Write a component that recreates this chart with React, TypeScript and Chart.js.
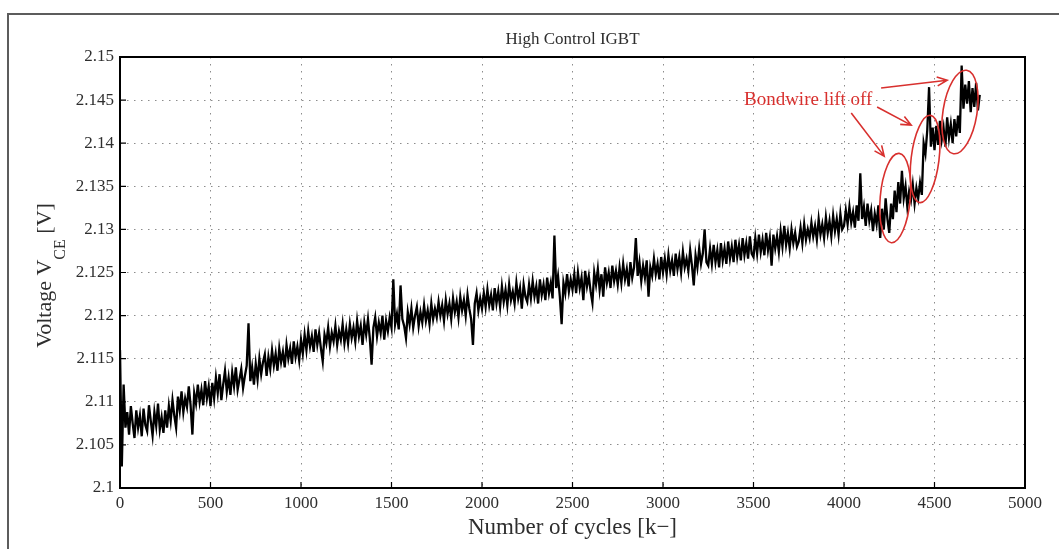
import React, { useEffect, useRef } from 'react';
import { Chart, registerables } from 'chart.js';
Chart.register(...registerables);

// ---- data ----
const cycleStep = 10; // sampling interval of the series [k cycles]
const voltage = [
  // 0 - 240
  2.1160, 2.1025, 2.1120, 2.1070, 2.1088, 2.1062, 2.1095, 2.1075, 2.1058, 2.1090, 2.1070, 2.1084, 2.1060, 2.1092, 2.1073, 2.1066, 2.1096, 2.1078, 2.1061, 2.1088, 2.1072, 2.1098, 2.1068, 2.1082, 2.1064,
  // 250 - 490
  2.1090, 2.1070, 2.1095, 2.1078, 2.1102, 2.1084, 2.1070, 2.1106, 2.1090, 2.1112, 2.1088, 2.1104, 2.1094, 2.1118, 2.1096, 2.1062, 2.1110, 2.1098, 2.1120, 2.1100, 2.1114, 2.1096, 2.1124, 2.1104, 2.1118,
  // 500 - 740
  2.1095, 2.1122, 2.1104, 2.1128, 2.1110, 2.1132, 2.1102, 2.1120, 2.1136, 2.1112, 2.1128, 2.1108, 2.1134, 2.1118, 2.1140, 2.1114, 2.1126, 2.1138, 2.1116, 2.1130, 2.1142, 2.1191, 2.1124, 2.1140, 2.1120,
  // 750 - 990
  2.1144, 2.1126, 2.1150, 2.1132, 2.1146, 2.1155, 2.1130, 2.1152, 2.1138, 2.1160, 2.1142, 2.1156, 2.1136, 2.1162, 2.1146, 2.1158, 2.1140, 2.1166, 2.1150, 2.1162, 2.1144, 2.1170, 2.1152, 2.1164, 2.1148,
  // 1000 - 1240
  2.1172, 2.1156, 2.1178, 2.1160, 2.1182, 2.1164, 2.1176, 2.1158, 2.1184, 2.1166, 2.1180, 2.1162, 2.1147, 2.1178, 2.1168, 2.1186, 2.1164, 2.1180, 2.1170, 2.1188, 2.1166, 2.1182, 2.1172, 2.1190, 2.1168,
  // 1250 - 1490
  2.1184, 2.1168, 2.1190, 2.1174, 2.1186, 2.1170, 2.1194, 2.1176, 2.1188, 2.1166, 2.1192, 2.1178, 2.1196, 2.1174, 2.1143, 2.1186, 2.1198, 2.1176, 2.1192, 2.1180, 2.1200, 2.1172, 2.1194, 2.1182, 2.1198,
  // 1500 - 1740
  2.1186, 2.1242, 2.1190, 2.1202, 2.1184, 2.1235, 2.1196, 2.1188, 2.1174, 2.1204, 2.1190, 2.1208, 2.1186, 2.1200, 2.1210, 2.1188, 2.1204, 2.1192, 2.1212, 2.1194, 2.1206, 2.1190, 2.1214, 2.1196, 2.1208,
  // 1750 - 1990
  2.1198, 2.1216, 2.1200, 2.1212, 2.1194, 2.1218, 2.1202, 2.1214, 2.1196, 2.1220, 2.1204, 2.1216, 2.1198, 2.1222, 2.1206, 2.1218, 2.1200, 2.1224, 2.1208, 2.1196, 2.1166, 2.1214, 2.1226, 2.1206, 2.1220,
  // 2000 - 2240
  2.1208, 2.1226, 2.1210, 2.1230, 2.1212, 2.1224, 2.1206, 2.1232, 2.1214, 2.1228, 2.1210, 2.1234, 2.1216, 2.1230, 2.1212, 2.1236, 2.1218, 2.1228, 2.1214, 2.1238, 2.1220, 2.1232, 2.1208, 2.1236, 2.1222,
  // 2250 - 2490
  2.1216, 2.1236, 2.1220, 2.1240, 2.1222, 2.1234, 2.1214, 2.1242, 2.1224, 2.1236, 2.1218, 2.1244, 2.1226, 2.1238, 2.1220, 2.1293, 2.1232, 2.1246, 2.1222, 2.1190, 2.1238, 2.1226, 2.1248, 2.1228, 2.1242,
  // 2500 - 2740
  2.1230, 2.1248, 2.1226, 2.1250, 2.1232, 2.1244, 2.1218, 2.1252, 2.1234, 2.1246, 2.1228, 2.1215, 2.1250, 2.1236, 2.1254, 2.1230, 2.1248, 2.1222, 2.1256, 2.1238, 2.1250, 2.1232, 2.1258, 2.1240, 2.1252,
  // 2750 - 2990
  2.1236, 2.1256, 2.1238, 2.1260, 2.1242, 2.1254, 2.1234, 2.1262, 2.1244, 2.1256, 2.1290, 2.1246, 2.1262, 2.1240, 2.1258, 2.1244, 2.1264, 2.1222, 2.1256, 2.1246, 2.1266, 2.1248, 2.1260, 2.1242, 2.1268,
  // 3000 - 3240
  2.1250, 2.1266, 2.1248, 2.1270, 2.1252, 2.1264, 2.1246, 2.1272, 2.1254, 2.1268, 2.1250, 2.1274, 2.1256, 2.1266, 2.1252, 2.1276, 2.1258, 2.1235, 2.1270, 2.1256, 2.1278, 2.1260, 2.1272, 2.1300, 2.1262,
  // 3250 - 3490
  2.1258, 2.1278, 2.1260, 2.1282, 2.1262, 2.1276, 2.1256, 2.1284, 2.1264, 2.1278, 2.1260, 2.1286, 2.1266, 2.1280, 2.1262, 2.1288, 2.1268, 2.1282, 2.1264, 2.1290, 2.1270, 2.1284, 2.1266, 2.1292, 2.1272,
  // 3500 - 3740
  2.1268, 2.1290, 2.1272, 2.1294, 2.1274, 2.1288, 2.1270, 2.1296, 2.1276, 2.1290, 2.1258, 2.1294, 2.1278, 2.1292, 2.1274, 2.1298, 2.1280, 2.1304, 2.1282, 2.1296, 2.1278, 2.1300, 2.1284, 2.1296, 2.1280,
  // 3750 - 3990
  2.1286, 2.1302, 2.1284, 2.1306, 2.1288, 2.1300, 2.1290, 2.1308, 2.1292, 2.1304, 2.1288, 2.1312, 2.1294, 2.1306, 2.1290, 2.1314, 2.1296, 2.1310, 2.1292, 2.1316, 2.1298, 2.1312, 2.1294, 2.1318, 2.1300,
  // 4000 - 4240
  2.1304, 2.1322, 2.1306, 2.1326, 2.1308, 2.1320, 2.1302, 2.1328, 2.1310, 2.1365, 2.1312, 2.1326, 2.1304, 2.1330, 2.1310, 2.1322, 2.1298, 2.1318, 2.1306, 2.1328, 2.1290, 2.1324, 2.1300, 2.1336, 2.1312,
  // 4250 - 4490
  2.1296, 2.1330, 2.1312, 2.1345, 2.1320, 2.1355, 2.1330, 2.1368, 2.1336, 2.1350, 2.1326, 2.1344, 2.1334, 2.1352, 2.1330, 2.1348, 2.1336, 2.1354, 2.1340, 2.1400, 2.1388, 2.1415, 2.1465, 2.1396, 2.1418,
  // 4500 - 4740
  2.1392, 2.1420, 2.1398, 2.1426, 2.1404, 2.1418, 2.1396, 2.1430, 2.1406, 2.1422, 2.1400, 2.1428, 2.1408, 2.1432, 2.1412, 2.1490, 2.1440, 2.1468, 2.1446, 2.1472, 2.1436, 2.1464, 2.1442, 2.1470, 2.1438,
  // 4750
  2.1456,
];
const cycles = voltage.map((_, i) => i * cycleStep);

const xTicks = [0, 500, 1000, 1500, 2000, 2500, 3000, 3500, 4000, 4500, 5000];
const xTickLabels = ['0', '500', '1000', '1500', '2000', '2500', '3000', '3500', '4000', '4500', '5000'];
const yTicks = [2.1, 2.105, 2.11, 2.115, 2.12, 2.125, 2.13, 2.135, 2.14, 2.145, 2.15];
const yTickLabels = ['2.1', '2.105', '2.11', '2.115', '2.12', '2.125', '2.13', '2.135', '2.14', '2.145', '2.15'];

const chartTitle = 'High Control IGBT';
const xTitle = 'Number of cycles [k\u2212]';
const yTitleMain = 'Voltage V';
const yTitleSub = 'CE';
const yTitleEnd = ' [V]';

// annotation (data coordinates)
const noteText = 'Bondwire lift off';
const notePos = { x: 3802, y: 2.1450 };
const ellipseCenters = [
  { x: 4283, y: 2.13364 },
  { x: 4448, y: 2.13817 },
  { x: 4641, y: 2.14362 },
];
const ellipseRadii = [
  { x: 83, y: 0.0052 },
  { x: 77, y: 0.0051 },
  { x: 94, y: 0.0049 },
];
const ellipseTilt = [5, 7, 9];
const arrowFrom = [
  { x: 4040, y: 2.1435 },
  { x: 4183, y: 2.1442 },
  { x: 4205, y: 2.1464 },
];
const arrowTo = [
  { x: 4222, y: 2.1385 },
  { x: 4371, y: 2.1421 },
  { x: 4570, y: 2.1473 },
];

const SERIF = '"Liberation Serif", "Times New Roman", serif';
const RED = '#d8302e';
const TEXT = '#2e2e2e';

const decor = {
  id: 'decor',
  beforeDraw(chart: any) {
    const ctx = chart.ctx;
    ctx.save();
    ctx.fillStyle = '#ffffff';
    ctx.fillRect(0, 0, chart.width, chart.height);
    ctx.strokeStyle = '#5c5c5c';
    ctx.lineWidth = 2;
    ctx.beginPath();
    ctx.moveTo(8, chart.height);
    ctx.lineTo(8, 14);
    ctx.lineTo(chart.width, 14);
    ctx.stroke();
    ctx.restore();
  },
  afterDatasetsDraw(chart: any) {
    const ctx = chart.ctx;
    const a = chart.chartArea;
    const xs = chart.scales.x;
    const ys = chart.scales.y;
    ctx.save();
    // box
    ctx.strokeStyle = '#000';
    ctx.lineWidth = 2;
    ctx.strokeRect(a.left, a.top, a.right - a.left, a.bottom - a.top);
    // inward ticks
    ctx.lineWidth = 1.2;
    ctx.beginPath();
    xTicks.forEach((v) => {
      const px = xs.getPixelForValue(v);
      ctx.moveTo(px, a.bottom);
      ctx.lineTo(px, a.bottom - 6);
    });
    yTicks.forEach((v) => {
      const py = ys.getPixelForValue(v);
      ctx.moveTo(a.left, py);
      ctx.lineTo(a.left + 6, py);
    });
    ctx.stroke();

    // annotations
    ctx.strokeStyle = RED;
    ctx.fillStyle = RED;
    ctx.lineWidth = 1.6;
    ellipseCenters.forEach((c, i) => {
      const cx = xs.getPixelForValue(c.x);
      const cy = ys.getPixelForValue(c.y);
      const rx = Math.abs(xs.getPixelForValue(c.x + ellipseRadii[i].x) - cx);
      const ry = Math.abs(ys.getPixelForValue(c.y + ellipseRadii[i].y) - cy);
      ctx.beginPath();
      ctx.ellipse(cx, cy, rx, ry, (ellipseTilt[i] * Math.PI) / 180, 0, Math.PI * 2);
      ctx.stroke();
    });
    arrowFrom.forEach((f, i) => {
      const x1 = xs.getPixelForValue(f.x);
      const y1 = ys.getPixelForValue(f.y);
      const x2 = xs.getPixelForValue(arrowTo[i].x);
      const y2 = ys.getPixelForValue(arrowTo[i].y);
      const ang = Math.atan2(y2 - y1, x2 - x1);
      const hl = 11;
      const spread = 0.42;
      ctx.beginPath();
      ctx.moveTo(x1, y1);
      ctx.lineTo(x2, y2);
      ctx.moveTo(x2 - hl * Math.cos(ang - spread), y2 - hl * Math.sin(ang - spread));
      ctx.lineTo(x2, y2);
      ctx.lineTo(x2 - hl * Math.cos(ang + spread), y2 - hl * Math.sin(ang + spread));
      ctx.stroke();
    });
    ctx.font = `19px ${SERIF}`;
    ctx.textAlign = 'center';
    ctx.textBaseline = 'middle';
    ctx.fillText(noteText, xs.getPixelForValue(notePos.x), ys.getPixelForValue(notePos.y));
    ctx.restore();
  },
  afterDraw(chart: any) {
    const ctx = chart.ctx;
    const a = chart.chartArea;
    const midX = (a.left + a.right) / 2;
    const midY = (a.top + a.bottom) / 2;
    ctx.save();
    ctx.fillStyle = TEXT;
    ctx.textAlign = 'center';
    ctx.textBaseline = 'middle';
    ctx.font = `17px ${SERIF}`;
    ctx.fillText(chartTitle, midX, a.top - 17);
    ctx.font = `23px ${SERIF}`;
    ctx.fillText(xTitle, midX, a.bottom + 40);

    // y title with subscript
    ctx.translate(51, midY + 3);
    ctx.rotate(-Math.PI / 2);
    ctx.textAlign = 'left';
    ctx.textBaseline = 'alphabetic';
    const big = `22px ${SERIF}`;
    const small = `16px ${SERIF}`;
    ctx.font = big;
    const w1 = ctx.measureText(yTitleMain).width;
    const w3 = ctx.measureText(yTitleEnd).width;
    ctx.font = small;
    const w2 = ctx.measureText(yTitleSub).width;
    let sx = -(w1 + w2 + w3) / 2;
    ctx.font = big;
    ctx.fillText(yTitleMain, sx, 0);
    sx += w1;
    ctx.font = small;
    ctx.fillText(yTitleSub, sx, 14);
    sx += w2;
    ctx.font = big;
    ctx.fillText(yTitleEnd, sx, 0);
    ctx.restore();
  },
};

export default function App() {
  const ref = useRef<HTMLCanvasElement | null>(null);
  useEffect(() => {
    if (!ref.current) return;
    const chart = new Chart(ref.current, {
      type: 'line',
      data: {
        datasets: [
          {
            data: cycles.map((c, i) => ({ x: c, y: voltage[i] })),
            borderColor: '#000',
            borderWidth: 2.3,
            borderJoinStyle: 'miter',
            pointRadius: 0,
            tension: 0,
            fill: false,
          },
        ],
      },
      options: {
        animation: false,
        responsive: false,
        devicePixelRatio: 1,
        layout: { padding: { left: 0, right: 34, top: 57, bottom: 0 } },
        plugins: { legend: { display: false }, tooltip: { enabled: false }, title: { display: false } },
        scales: {
          x: {
            type: 'linear',
            min: 0,
            max: 5000,
            afterFit: (s: any) => { s.height = 61; },
            afterBuildTicks: (s: any) => { s.ticks = xTicks.map((v) => ({ value: v })); },
            ticks: {
              autoSkip: false,
              maxRotation: 0,
              padding: 5,
              color: TEXT,
              font: { family: SERIF, size: 17 },
              callback: (_v: any, i: number) => xTickLabels[i],
            },
            grid: { color: '#8c8c8c', lineWidth: 1, drawTicks: false },
            border: { display: false, dash: [1.5, 5.5] },
          },
          y: {
            type: 'linear',
            min: 2.1,
            max: 2.15,
            afterFit: (s: any) => { s.width = 120; },
            afterBuildTicks: (s: any) => { s.ticks = yTicks.map((v) => ({ value: v })); },
            ticks: {
              autoSkip: false,
              padding: 6,
              color: TEXT,
              font: { family: SERIF, size: 17 },
              callback: (_v: any, i: number) => yTickLabels[i],
            },
            grid: { color: '#8c8c8c', lineWidth: 1, drawTicks: false },
            border: { display: false, dash: [1.5, 5.5] },
          },
        },
      },
      plugins: [decor],
    });
    return () => chart.destroy();
  }, []);
  return (
    <div style={{ position: 'absolute', left: 0, top: 0, width: 1059, height: 549 }}>
      <canvas ref={ref} width={1059} height={549} style={{ display: 'block' }} />
    </div>
  );
}
